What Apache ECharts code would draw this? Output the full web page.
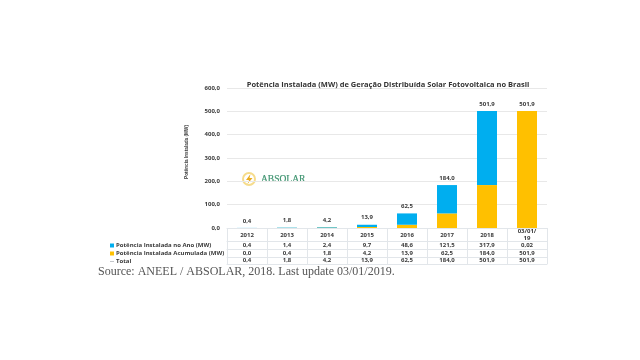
<!DOCTYPE html>
<html>
<head>
<meta charset="utf-8">
<style>
  html, body { margin: 0; padding: 0; background: #fff; }
  #chart { width: 640px; height: 360px; filter: blur(0.45px); }
</style>
<script src="https://cdn.jsdelivr.net/npm/echarts@6/dist/echarts.min.js"></script>
</head>
<body>
<div id="chart"></div>
<script>
// Potência instalada de geração distribuída solar
const TITLE = 'Potência Instalada (MW) de Geração Distribuída Solar Fotovoltaica no Brasil';
const Y_NAME = 'Potência Instalada (MW)';
const SOURCE = 'Source: ANEEL / ABSOLAR, 2018. Last update 03/01/2019.';
const YEARS = ['2012', '2013', '2014', '2015', '2016', '2017', '2018', '03/01/\n19'];
const ANO = [0.4, 1.4, 2.4, 9.7, 48.6, 121.5, 317.9, 0.02];
const ACUMULADA = [0, 0.4, 1.8, 4.2, 13.9, 62.5, 184.0, 501.9];
const TOTAL = [0.4, 1.8, 4.2, 13.9, 62.5, 184.0, 501.9, 501.9];
const ANO_NAME = 'Potência Instalada no Ano (MW)';
const ACUM_NAME = 'Potência Instalada Acumulada (MW)';
const TOTAL_NAME = 'Total';

const BLUE = '#00aeef';
const ORANGE = '#ffc000';
const TEXT = '#3a3a3a';
const LINE = '#e2e6ea';
const FONT = '"Open Sans", "Noto Sans", sans-serif';

const fmt = v => v === 0.02 ? '0,02' : v.toFixed(1).replace('.', ',');

// linhas da tabela: cada uma é um eixo x deslocado; margin conta até o centro do texto
function tableAxis(data, offset, height, margin) {
  return {
    type: 'category',
    position: 'bottom',
    offset,
    data,
    axisLine: { show: true, lineStyle: { color: LINE } },
    axisTick: { show: height > 0, length: height, inside: false, lineStyle: { color: LINE } },
    axisLabel: {
      show: data.length > 0,
      interval: 0,
      margin,
      verticalAlign: 'middle',
      color: TEXT,
      fontFamily: FONT,
      fontSize: 6,
      fontWeight: 'bold',
      lineHeight: 7,
    },
  };
}

const chart = echarts.init(document.getElementById('chart'));

chart.setOption({
  backgroundColor: '#fff',
  animation: false,
  title: {
    text: TITLE,
    left: 383, top: 76, textAlign: 'center',
    textStyle: { color: '#333', fontFamily: FONT, fontSize: 7.5, fontWeight: 'bold' },
  },
  legend: {
    orient: 'vertical',
    left: 110, top: 242.5,
    itemWidth: 4, itemHeight: 4, itemGap: 2,
    padding: 0,
    textStyle: { color: TEXT, fontFamily: FONT, fontSize: 6, fontWeight: 'bold', padding: [0, 0, 0, -3] },
    data: [
      { name: ANO_NAME, icon: 'rect' },
      { name: ACUM_NAME, icon: 'rect' },
      { name: TOTAL_NAME, icon: 'path://M0,4H10V5.5H0Z', itemStyle: { color: '#9aa0a6' } },
    ],
  },
  grid: { left: 227, right: 93, top: 88, bottom: 132 },
  xAxis: [
    tableAxis(YEARS, 0, 13, 7),
    tableAxis(ANO.map(fmt), 13, 8, 4),
    tableAxis(ACUMULADA.map(fmt), 21, 8, 4),
    tableAxis(TOTAL.map(fmt), 29, 7, 3.5),
    tableAxis([], 36, 0, 0),
  ],
  yAxis: {
    type: 'value',
    min: 0, max: 600, interval: 100,
    axisLine: { show: false },
    axisTick: { show: false },
    axisLabel: { margin: 7, color: TEXT, fontFamily: FONT, fontSize: 6, fontWeight: 'bold', formatter: v => fmt(v) },
    splitLine: { lineStyle: { color: '#e8e8e8' } },
  },
  series: [
    { name: ACUM_NAME, type: 'bar', stack: 'pot', data: ACUMULADA, barWidth: 20, itemStyle: { color: ORANGE } },
    { name: ANO_NAME, type: 'bar', stack: 'pot', data: ANO, barWidth: 20, itemStyle: { color: BLUE } },
    {
      name: TOTAL_NAME, type: 'line', data: TOTAL,
      symbol: 'circle', symbolSize: 0,
      lineStyle: { opacity: 0 },
      itemStyle: { color: '#9aa0a6' },
      label: {
        show: true, position: 'top', distance: 4,
        color: TEXT, fontFamily: FONT, fontSize: 6, fontWeight: 'bold',
        formatter: p => fmt(p.value),
      },
    },
  ],
  graphic: [
    // título do eixo y, mais estreito que o resto
    { type: 'text', x: 187, y: 152, rotation: Math.PI / 2,
      style: { text: Y_NAME, fill: TEXT, font: 'bold 4.7px "Liberation Sans", sans-serif', align: 'center', verticalAlign: 'middle' } },
    // logo ABSOLAR
    { type: 'circle', shape: { cx: 249, cy: 179, r: 6 }, style: { fill: '#fff', stroke: '#f6dc8c', lineWidth: 2 } },
    { type: 'polygon', shape: { points: [[250.5, 174], [246, 180], [249, 180], [247.5, 184], [252.5, 178], [249.5, 178]] }, style: { fill: '#e9ab1f' } },
    { type: 'text', style: { text: 'ABSOLAR', x: 261, y: 174.5, fill: '#3f9470', stroke: '#3f9470', lineWidth: 0.2, font: '9.5px "Liberation Serif", serif' } },
    // fonte
    { type: 'text', style: { text: SOURCE, x: 98, y: 266, fill: '#555', font: '12px "Liberation Serif", serif' } },
  ],
});
</script>
</body>
</html>
